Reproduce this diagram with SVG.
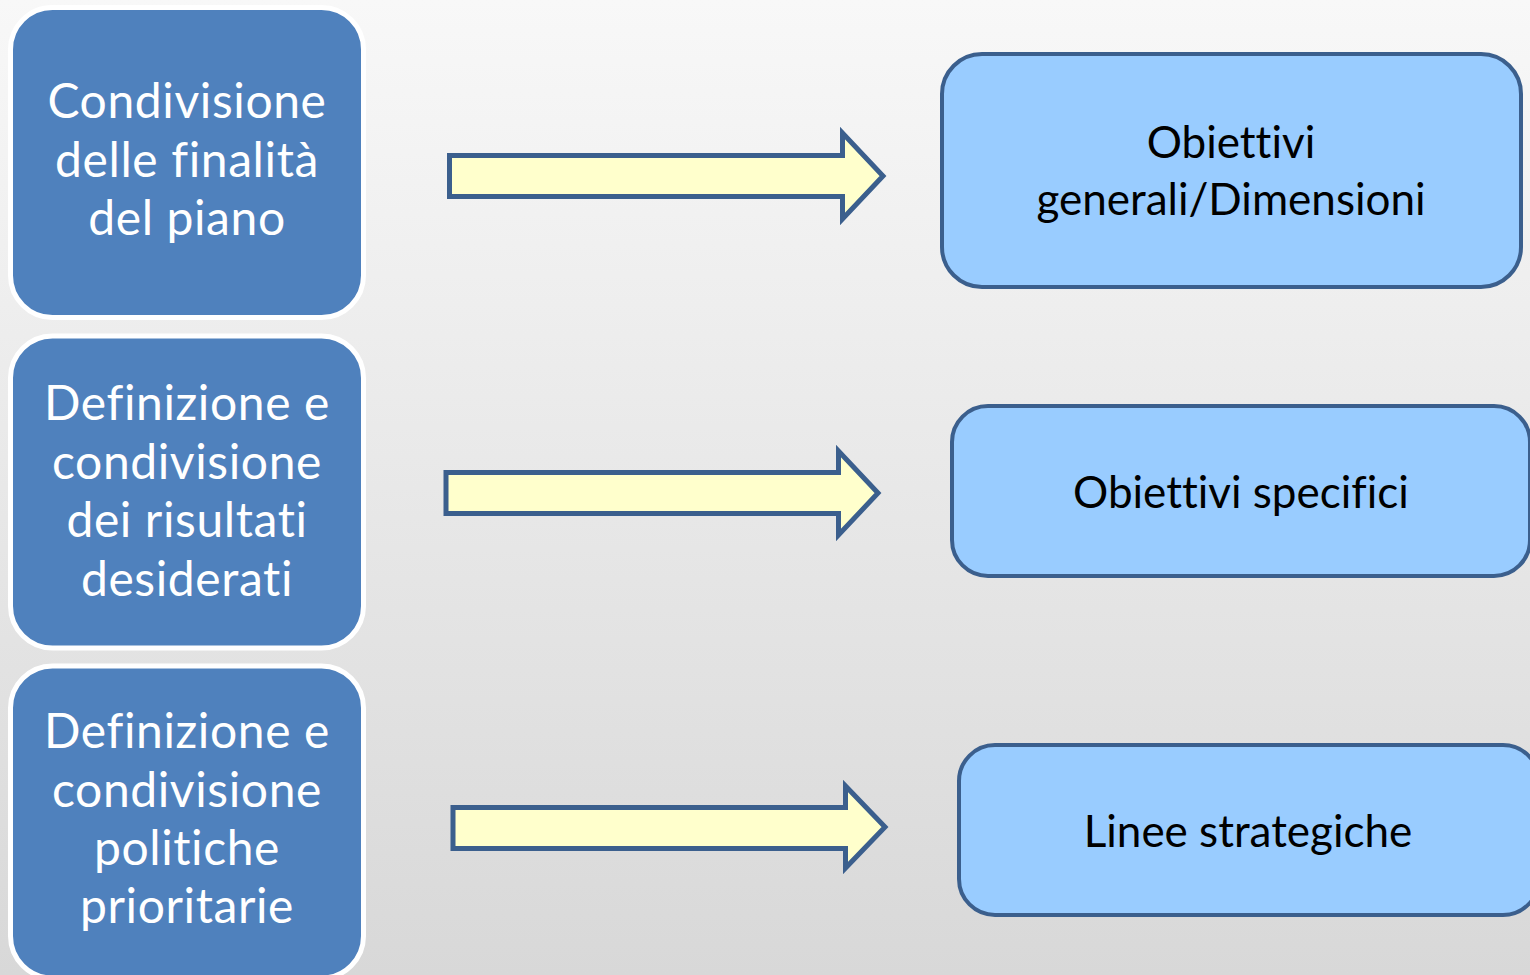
<svg xmlns="http://www.w3.org/2000/svg" width="1530" height="975" viewBox="0 0 1530 975">
<defs>
<linearGradient id="bg" x1="0" y1="0" x2="0" y2="1">
<stop offset="0" stop-color="#f8f8f8"/>
<stop offset="1" stop-color="#d8d8d8"/>
</linearGradient>
<style>
.lbox{fill:#4f81bd;stroke:#ffffff;stroke-width:5}
.rbox{fill:#99ccff;stroke:#3b5f8d;stroke-width:4}
.arrow{fill:#ffffcc;stroke:#3b5f8d;stroke-width:5;stroke-linejoin:miter}
.lt{font-family:Lato,"Open Sans",sans-serif;font-size:48px;letter-spacing:0.6px;fill:#ffffff;text-anchor:middle;font-variant-ligatures:none}
.rt{font-family:Lato,"Open Sans",sans-serif;font-size:44px;fill:#000000;text-anchor:middle;font-variant-ligatures:none}
</style>
</defs>
<rect x="0" y="0" width="1530" height="975" fill="url(#bg)"/>
<g id="left1">
<rect class="lbox" x="10.5" y="7.5" width="353" height="310" rx="42"/>
<text class="lt" x="187" y="118">Condivisione</text>
<text class="lt" x="187" y="177">delle finalità</text>
<text class="lt" x="187" y="235">del piano</text>
</g>
<g id="left2">
<rect class="lbox" x="10.5" y="336" width="353" height="312" rx="42"/>
<text class="lt" x="187" y="420">Definizione e</text>
<text class="lt" x="187" y="479">condivisione</text>
<text class="lt" x="187" y="537">dei risultati</text>
<text class="lt" x="187" y="596">desiderati</text>
</g>
<g id="left3">
<rect class="lbox" x="10.5" y="666" width="353" height="312" rx="42"/>
<text class="lt" x="187" y="748">Definizione e</text>
<text class="lt" x="187" y="807">condivisione</text>
<text class="lt" x="187" y="865">politiche</text>
<text class="lt" x="187" y="923">prioritarie</text>
</g>
<g id="right1">
<rect class="rbox" x="942" y="54" width="579" height="233" rx="40"/>
<text class="rt" x="1231" y="158">Obiettivi</text>
<text class="rt" x="1231" y="215">generali/Dimensioni</text>
</g>
<g id="right2">
<rect class="rbox" x="952" y="406" width="578" height="170" rx="36"/>
<text class="rt" x="1241" y="508">Obiettivi specifici</text>
</g>
<g id="right3">
<rect class="rbox" x="959" y="745" width="580" height="170" rx="36"/>
<text class="rt" x="1248" y="847">Linee strategiche</text>
</g>
<g id="connectors">
<path class="arrow" d="M449.5,155.5 H842.5 V133 L883,176 L842.5,219 V196.5 H449.5 Z"/>
<path class="arrow" d="M446,472.5 H838.5 V451 L878,493 L838.5,535 V513.5 H446 Z"/>
<path class="arrow" d="M453,807.5 H845.5 V786 L885,827 L845.5,868 V848.5 H453 Z"/>
</g>
</svg>
